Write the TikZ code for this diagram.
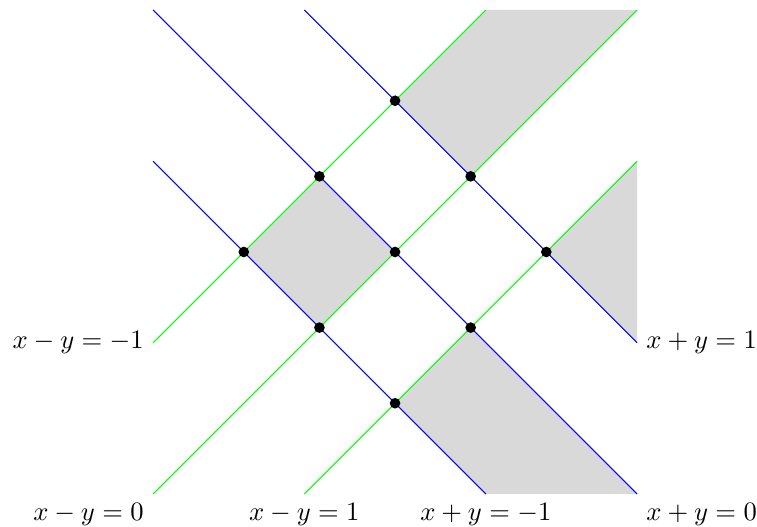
\documentclass[tikz,border=0pt]{standalone}

\begin{document}
\begin{tikzpicture}[
  x=2cm,y=2cm,
  region/.style={fill=gray!30,draw=none},
  sumline/.style={blue,line width=0.4pt},
  diffline/.style={green,line width=0.4pt},
  lbl/.style={text=black},
  dot/.style={circle,fill=black,inner sep=0pt,minimum size=4pt}
]
\useasboundingbox (-2.612,-1.812) rectangle (2.393,1.666);

% shaded regions
\fill[region] (0,1) -- (0.6,1.6) -- (1.6,1.6) -- (0.5,0.5) -- cycle;
\fill[region] (-1,0) -- (-0.5,0.5) -- (0,0) -- (-0.5,-0.5) -- cycle;
\fill[region] (1,0) -- (1.6,0.6) -- (1.6,-0.6) -- cycle;
\fill[region] (0,-1) -- (0.5,-0.5) -- (1.6,-1.6) -- (0.6,-1.6) -- cycle;

% lines x+y=c
\draw[sumline] (-1.6,1.6) -- (1.6,-1.6) node[lbl,below right] (sum0) {$x+y=0$};
\draw[sumline] (-0.6,1.6) -- (1.6,-0.6) node[lbl,right] (sum1) {$x+y=1$};
\draw[sumline] (-1.6,0.6) -- (0.6,-1.6) node[lbl,below] (summ1) {$x+y=-1$};

% lines x-y=c
\draw[diffline] (0.6,1.6) -- (-1.6,-0.6) node[lbl,left] (diffm1) {$x-y=-1$};
\draw[diffline] (1.6,1.6) -- (-1.6,-1.6) node[lbl,below left] (diff0) {$x-y=0$};
\draw[diffline] (1.6,0.6) -- (-0.6,-1.6) node[lbl,below] (diff1) {$x-y=1$};

% intersections
\node[dot] (p1) at (0,1) {};
\node[dot] (p2) at (-0.5,0.5) {};
\node[dot] (p3) at (0.5,0.5) {};
\node[dot] (p4) at (-1,0) {};
\node[dot] (p5) at (0,0) {};
\node[dot] (p6) at (1,0) {};
\node[dot] (p7) at (-0.5,-0.5) {};
\node[dot] (p8) at (0.5,-0.5) {};
\node[dot] (p9) at (0,-1) {};
\end{tikzpicture}
\end{document}
